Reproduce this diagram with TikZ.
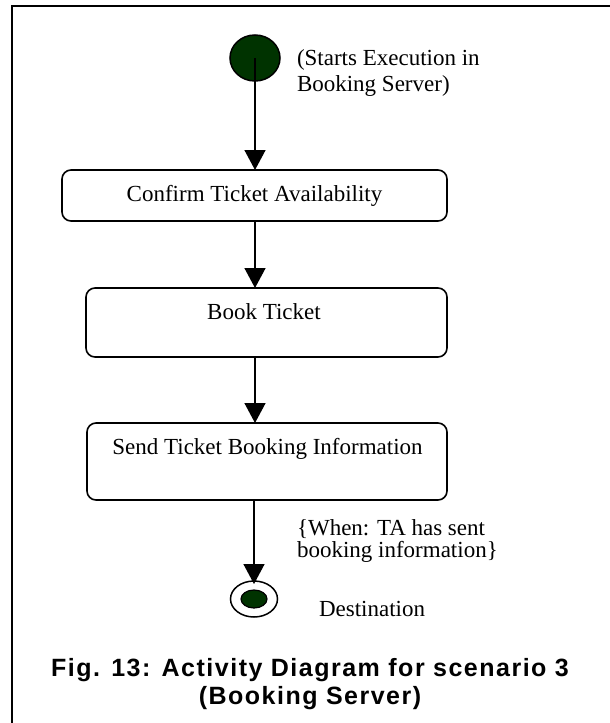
\documentclass[tikz,border=0pt]{standalone}
\usepackage{fontspec}
\setmainfont{Liberation Serif}
\newfontfamily\capfont[LetterSpace=6]{Liberation Sans}
\usetikzlibrary{arrows.meta,shapes.geometric}
\definecolor{nodegreen}{RGB}{0,51,0}

\begin{document}
\begin{tikzpicture}[x=1pt,y=-1pt,
  every node/.style={inner sep=0pt, outer sep=0pt},
  lbl/.style={font=\fontsize{23}{26}\selectfont, anchor=base west},
  boxtext/.style={font=\fontsize{23}{26}\selectfont, anchor=base},
  capline/.style={font=\capfont\bfseries\fontsize{25}{30}\selectfont, anchor=base},
  actbox/.style={draw, line width=1.6pt, rounded corners=9pt},
  flow/.style={line width=1.5pt, -{Triangle[width=21pt,length=20pt]}},
  frame/.style={line width=1.8pt}]

  \useasboundingbox (0,0) rectangle (610,723);

  % outer frame (top and left edges)
  \draw[frame] (12,723) -- (12,6) -- (612,6);

  % initial state
  \node[ellipse, draw, line width=1.5pt, fill=nodegreen, minimum width=50pt, minimum height=46pt] (start) at (255,58) {};
  \node[lbl] (startA) at (297,65) {(Starts Execution in};
  \node[lbl] (startB) at (297,91) {Booking Server)};

  % activities
  \node[actbox, minimum width=385pt, minimum height=51pt] (b1) at (254.5,195.5) {};
  \node[boxtext] (b1t) at (254.5,201) {Confirm Ticket Availability};

  \node[actbox, minimum width=361pt, minimum height=69pt] (b2) at (266.5,322.5) {};
  \node[boxtext] (b2t) at (264,319) {Book Ticket};

  \node[actbox, minimum width=360pt, minimum height=77pt] (b3) at (267,461.5) {};
  \node[boxtext] (b3t) at (267.5,454) {Send Ticket Booking Information};

  % final state
  \node[ellipse, draw, line width=1.5pt, fill=white, minimum width=47pt, minimum height=36pt] (fin) at (254,599) {};
  \node[ellipse, draw, line width=1.2pt, fill=nodegreen, minimum width=26pt, minimum height=18pt] (fincore) at (fin.center) {};

  \node[lbl] (guardA) at (297,535) {\{When: TA has sent};
  \node[lbl] (guardB) at (297,557) {booking information\}};
  \node[lbl] (dest) at (319,616) {Destination};

  % transitions
  \draw[flow] (start.center) -- (b1.north -| start.center);
  \draw[flow] (b1.south -| start.center) -- (b2.north -| start.center);
  \draw[flow] (b2.south -| start.center) -- (b3.north -| start.center);
  \draw[flow] (b3.south -| fin.center) -- ([yshift=-3pt]fin.north);

  % caption
  \node[capline] (cap1) at (310,676) {Fig. 13: Activity Diagram for scenario 3};
  \node[capline] (cap2) at (310,704) {(Booking Server)};
\end{tikzpicture}
\end{document}
